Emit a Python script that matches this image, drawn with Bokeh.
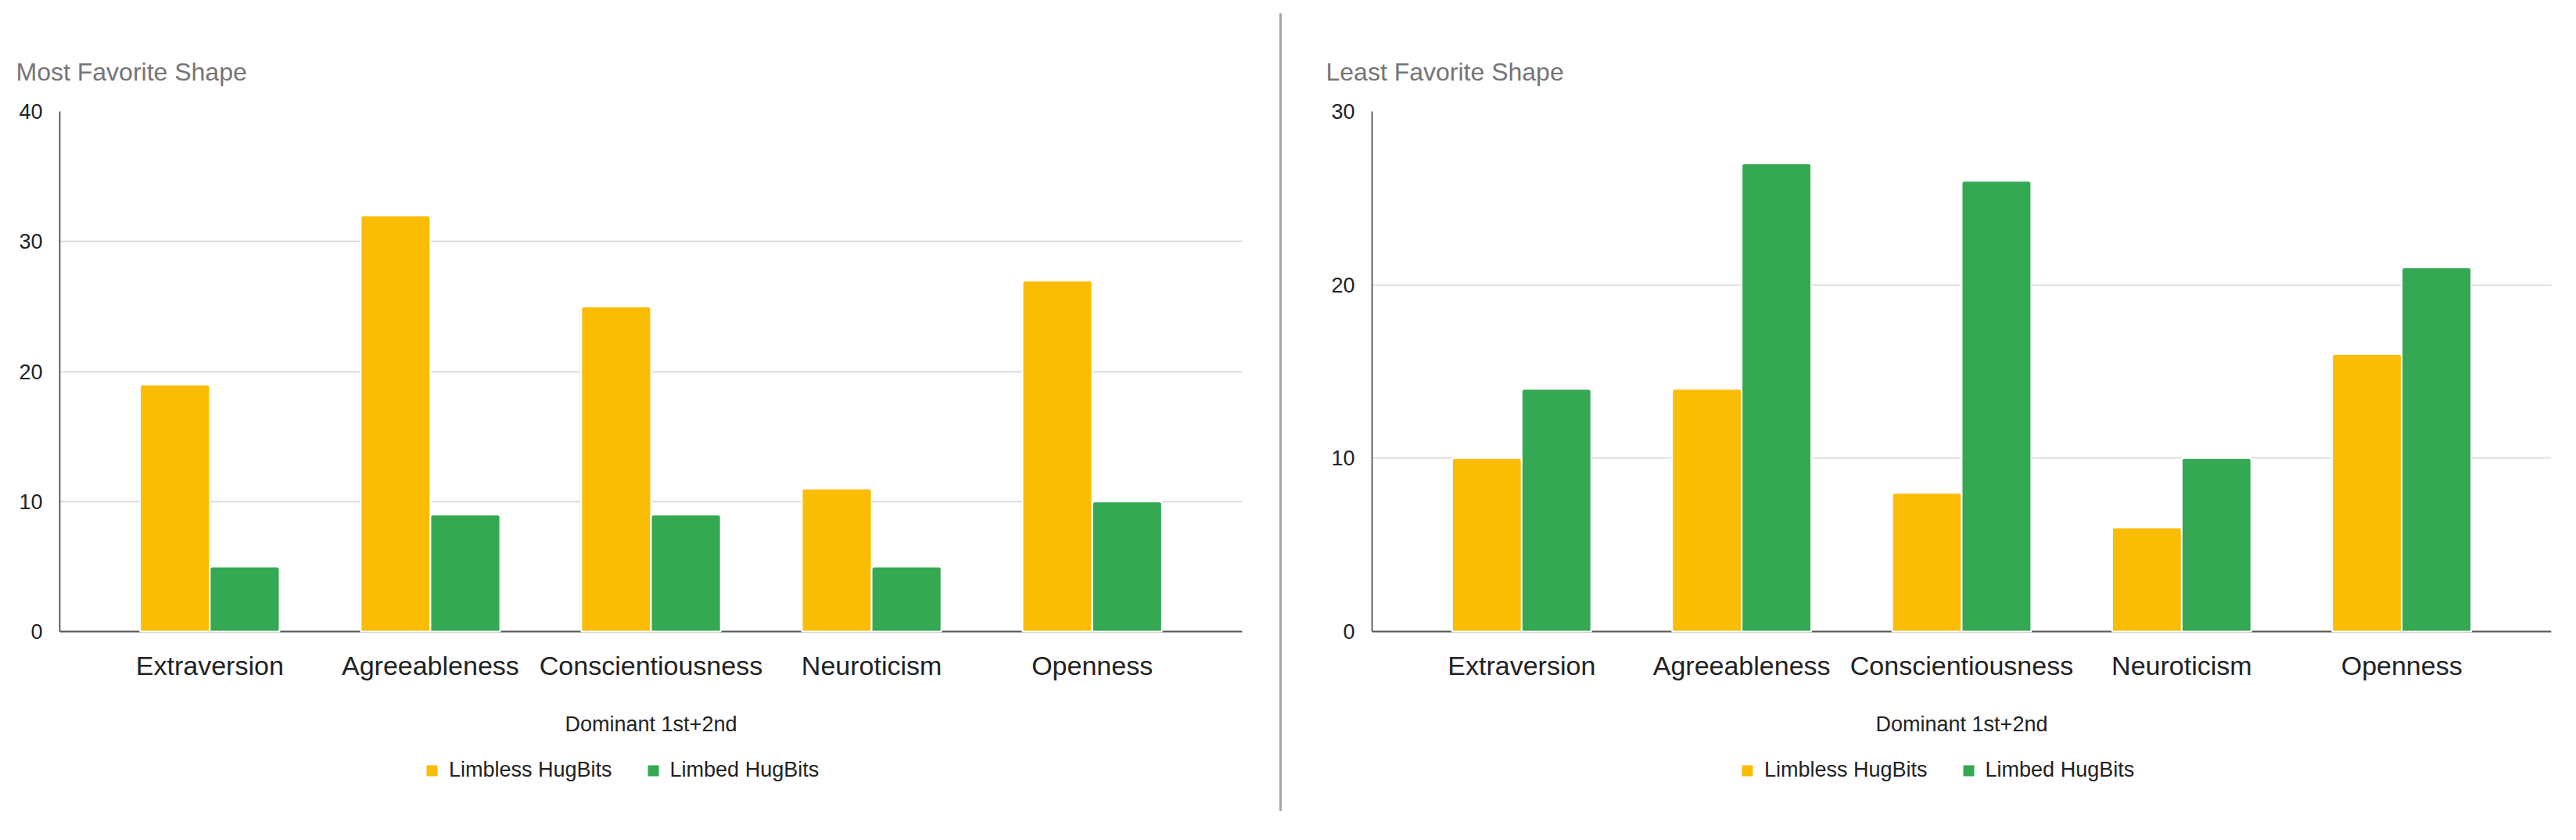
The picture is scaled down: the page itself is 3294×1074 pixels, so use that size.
from bokeh.plotting import figure
from bokeh.models import (FactorRange, Range1d, Legend, LegendItem, FixedTicker,
                          ColumnDataSource, Div, Span)
from bokeh.transform import dodge
from bokeh.layouts import row
from bokeh.embed import file_html
from bokeh.resources import INLINE

categories = ["Extraversion", "Agreeableness", "Conscientiousness", "Neuroticism", "Openness"]
series_names = ["Limbless HugBits", "Limbed HugBits"]
most_limbless = [19, 32, 25, 11, 27]
most_limbed = [5, 9, 9, 5, 10]
least_limbless = [10, 14, 8, 6, 16]
least_limbed = [14, 27, 26, 10, 21]
most_y_ticks = [0, 10, 20, 30, 40]
least_y_ticks = [0, 10, 20, 30]
titles = ["Most Favorite Shape", "Least Favorite Shape"]
x_title = "Dominant 1st+2nd"

FONT = "Liberation Sans"
YELLOW = "#FBBC04"
GREEN = "#34A853"

BAR_AREA_H = 665      # pixels from 0 to the top tick
BELOW_H = 225         # pixels kept under 0 for labels and legend


def make_chart(title, limbless, limbed, yticks, frame_w, b_left, b_right, t_offset, leg_x):
    src = ColumnDataSource(dict(cat=categories, a=limbless, b=limbed))
    ymax = max(yticks)
    ymin = -ymax * BELOW_H / BAR_AREA_H
    p = figure(x_range=FactorRange(factors=categories, range_padding=0.18,
                                   range_padding_units="absolute"),
               y_range=Range1d(ymin, ymax),
               frame_width=frame_w, frame_height=BAR_AREA_H + BELOW_H,
               output_backend="svg", toolbar_location=None,
               min_border_left=b_left, min_border_right=b_right,
               min_border_top=142, min_border_bottom=18)
    p.outline_line_color = None
    p.background_fill_color = "white"

    p.title.text = title
    p.title.text_font = FONT
    p.title.text_font_size = "32px"
    p.title.text_font_style = "normal"
    p.title.text_color = "#757575"
    p.title.align = "left"
    p.title.offset = t_offset
    p.title.standoff = 65

    p.add_layout(Span(location=0, dimension="width", line_color="#555555",
                      line_width=2, level="underlay"))

    r1 = p.vbar(x=dodge("cat", -0.158, range=p.x_range), top="a", width=0.316, source=src,
                fill_color=YELLOW, line_color="white", line_width=2,
                border_radius=(3, 3, 0, 0))
    r2 = p.vbar(x=dodge("cat", 0.158, range=p.x_range), top="b", width=0.316, source=src,
                fill_color=GREEN, line_color="white", line_width=2,
                border_radius=(3, 3, 0, 0))

    p.xgrid.grid_line_color = None
    p.ygrid.ticker = FixedTicker(ticks=yticks)
    p.ygrid.grid_line_color = "#d3d3d3"
    p.ygrid.grid_line_width = 1.5

    p.yaxis.ticker = FixedTicker(ticks=yticks)
    p.yaxis.bounds = (0, ymax)
    p.yaxis.major_tick_line_color = None
    p.yaxis.minor_tick_line_color = None
    p.yaxis.axis_line_color = "#333333"
    p.yaxis.axis_line_width = 1.5
    p.yaxis.major_label_text_font = FONT
    p.yaxis.major_label_text_font_size = "27px"
    p.yaxis.major_label_text_color = "#222222"
    p.yaxis.major_label_standoff = 16

    p.xaxis.fixed_location = 0
    p.xaxis.major_tick_line_color = None
    p.xaxis.minor_tick_line_color = None
    p.xaxis.axis_line_color = None
    p.xaxis.major_label_text_font = FONT
    p.xaxis.major_label_text_font_size = "34px"
    p.xaxis.major_label_text_color = "#222222"
    p.xaxis.major_label_standoff = 18
    p.xaxis.axis_label = x_title
    p.xaxis.axis_label_text_font = FONT
    p.xaxis.axis_label_text_font_style = "normal"
    p.xaxis.axis_label_text_font_size = "27px"
    p.xaxis.axis_label_text_color = "#222222"
    p.xaxis.axis_label_standoff = 38

    legend = Legend(items=[LegendItem(label=series_names[0], renderers=[r1]),
                           LegendItem(label=series_names[1], renderers=[r2])],
                    orientation="horizontal", location=(leg_x, 32),
                    glyph_width=20, glyph_height=20,
                    label_text_font=FONT, label_text_font_size="27px",
                    label_text_color="#222222", label_standoff=12, spacing=42,
                    border_line_color=None, background_fill_alpha=0,
                    padding=0, margin=0)
    p.add_layout(legend)
    return p


p1 = make_chart(titles[0], most_limbless, most_limbed, most_y_ticks, 1512, 76, 48, -56, 466)
p2 = make_chart(titles[1], least_limbless, least_limbed, least_y_ticks, 1508, 115, 16, -59, 470)
sep = Div(text="", width=3, height=1020, margin=(17, 0, 0, 0),
          styles={"background-color": "#a6a6a6"})

layout = row(p1, sep, p2)
open("out.html", "w").write(file_html(layout, INLINE))
